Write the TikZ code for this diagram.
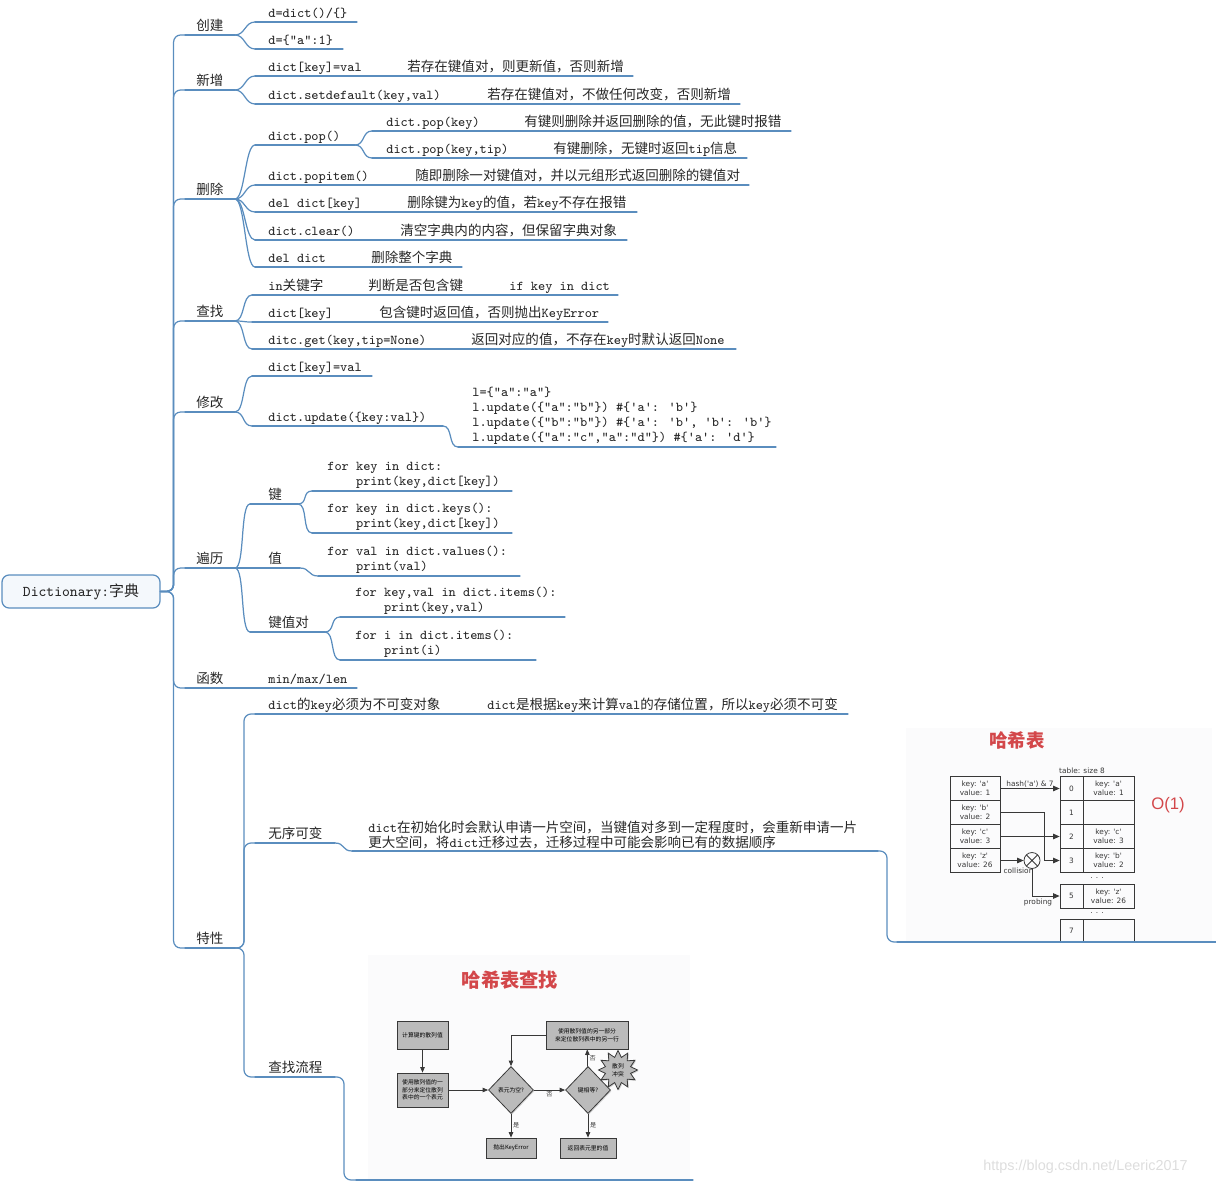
\documentclass[tikz,border=0pt]{standalone}
\usepackage{fontspec}
\usepackage{tikz}
\usetikzlibrary{positioning,arrows.meta,calc,shapes.geometric,shadows}
\newfontfamily\cjk{Noto Sans CJK SC}
\newfontfamily\dejavu{DejaVu Sans}
\newfontfamily\arial{Liberation Sans}
\newcommand\zh[1]{{\cjk #1}}
\definecolor{wire}{HTML}{5A8DBE}
\definecolor{ink}{HTML}{262626}
\definecolor{rootF}{HTML}{F4F8FC}
\definecolor{hot}{HTML}{D3474A}
\definecolor{picF}{HTML}{FBFBFC}
\definecolor{boxF}{HTML}{BBBBBB}
\definecolor{rule}{HTML}{383838}
\definecolor{faint}{HTML}{DDDDDD}
\tikzset{
  ul/.style={draw=wire, line width=0.7pt, line cap=round},
  lab/.style={anchor=base west, inner sep=0pt, text=ink,
              font=\fontsize{7.7}{8.5}\selectfont\ttfamily},
  blk/.style={lab, anchor=south west, align=left, yshift=-0.05cm},
  rootbox/.style={draw=wire, fill=rootF, line width=0.7pt, rounded corners=4pt,
                  minimum width=3.16cm, minimum height=0.66cm, text=ink,
                  font=\fontsize{8.5}{10}\selectfont\ttfamily},
  pictitle/.style={text=hot, font=\fontsize{10.5}{12}\selectfont\cjk\bfseries},
  hcell/.style={draw=rule, line width=0.45pt, minimum height=0.48cm, inner sep=0pt,
                align=center, text=rule, font=\fontsize{4.2}{4.9}\selectfont\dejavu},
  hlbl/.style={inner sep=0.5pt, text=rule, font=\fontsize{4.2}{4.9}\selectfont\dejavu},
  harrow/.style={-{Triangle[length=1.3mm, width=1.1mm]}, draw=rule, line width=0.45pt},
  flowbox/.style={draw=rule, fill=boxF, line width=0.45pt, inner sep=1pt, align=center,
               drop shadow={shadow xshift=0.6pt, shadow yshift=-0.6pt, opacity=0.35},
               font=\fontsize{3.3}{4.4}\selectfont\cjk},
  flowdia/.style={diamond, flowbox, minimum width=0.9cm, minimum height=0.94cm, inner sep=0pt},
  farrow/.style={-{Triangle[length=1.1mm, width=0.9mm]}, draw=rule, line width=0.45pt},
  flbl/.style={inner sep=1pt, text=rule, font=\fontsize{3.5}{4}\selectfont\cjk},
}
% name, x from, x to, y of the line, x of the text, text
\newcommand\topic[7][lab]{%
  \coordinate (#2-s) at (#3,#5);
  \coordinate (#2-e) at (#4,#5);
  \draw[ul] (#2-s) -- (#2-e);
  \node[#1] (#2) at (#6,#5-4.5) {#7};}

\begin{document}
\begin{tikzpicture}[x=0.02cm, y=-0.02cm]
  \useasboundingbox (0,0) rectangle (1216,1182);

  % ------------------------------------------------ hash table picture
  \begin{scope}
    \clip (906,728) rectangle (1212,941);
    \fill[picF] (906,728) rectangle (1212,941);
    \node[pictitle] (hashT) at (1017,740) {哈希表};
    \node[hlbl] (size) at (1082,771) {table: size 8};
    \foreach \nm/\val/\y in {a/1/788.5, b/2/812.5, c/3/836.5, z/26/860.5}
      \node[hcell, minimum width=1cm] (k\nm) at (975,\y) {key: '\nm'\\value: \val};
    \foreach \i/\y/\txt in {0/788.5/{key: 'a'\\value: 1}, 1/812.5/{}, 2/836.5/{key: 'c'\\value: 3},
                            3/860.5/{key: 'b'\\value: 2}, 5/896/{key: 'z'\\value: 26}, 7/931/{}} {
      \node[hcell, minimum width=0.46cm] (i\i) at (1071.5,\y) {\i};
      \node[hcell, minimum width=1.02cm] (v\i) at (1108.5,\y) {\txt};
    }
    \node[hlbl] (dots1) at (1097,878) {. . .};
    \node[hlbl] (dots2) at (1097,913) {. . .};
    \node[circle, draw=rule, line width=0.45pt, minimum size=0.32cm, inner sep=0pt,
          path picture={\draw[rule, line width=0.45pt]
            (path picture bounding box.north west) -- (path picture bounding box.south east)
            (path picture bounding box.south west) -- (path picture bounding box.north east);}]
          (coll) at (1032,860.5) {};
    \node[hlbl, below=-1pt of coll, xshift=-0.27cm] (collT) {collision};
    \node[hlbl] (probT) at (1038,902) {probing};

    \draw[harrow] (ka) -- node[hlbl, above] (hashF) {hash('a') \& 7} (i0);
    \draw[harrow] (kb.east) -- ++(44,0) |- (i3.west);
    \draw[harrow] (kc) -- (i2);
    \draw[harrow] (kz) -- (coll);
    \draw[harrow] (coll) |- (i5);

    \node[text=hot, font=\fontsize{9.5}{10}\selectfont\arial] (bigO) at (1168,805) {O(1)};
  \end{scope}

  % ------------------------------------------------ lookup flow picture
  \fill[picF] (368,955) rectangle (690,1179);
  \node[pictitle, font=\fontsize{11}{12}\selectfont\cjk\bfseries] (flowT) at (510,980) {哈希表查找};
  \node[flowbox, minimum width=1.02cm, minimum height=0.56cm] (hashv) at (422.5,1035) {计算键的散列值};
  \node[flowbox, minimum width=1.02cm, minimum height=0.68cm] (slot) at (422.5,1090)
    {使用散列值的一\\部分来定位散列\\表中的一个表元};
  \node[flowdia] (empty) at (511,1090) {表元为空?};
  \node[flowdia] (same) at (588,1090) {键相等?};
  \node[flowbox, minimum width=1.64cm, minimum height=0.56cm] (other) at (587,1035)
    {使用散列值的另一部分\\来定位散列表中的另一行};
  \node[flowbox, minimum width=1.0cm, minimum height=0.4cm] (kerr) at (511,1148) {抛出KeyError};
  \node[flowbox, minimum width=1.12cm, minimum height=0.4cm] (ret) at (588,1148) {返回表元里的值};
  \node[flowbox, star, star points=12, star point ratio=1.5, minimum size=0.78cm, inner sep=0pt]
    (clash) at (618,1070) {散列\\冲突};

  \draw[farrow] (hashv) -- (slot);
  \draw[farrow] (slot) -- (empty);
  \draw[farrow] (empty) -- node[flbl, below] (no1) {否} (same);
  \draw[farrow] (empty) -- node[flbl, right] (yes1) {是} (kerr);
  \draw[farrow] (same) -- node[flbl, right] (yes2) {是} (ret);
  \draw[farrow] (same) -- node[flbl, right] (no2) {否} (other);
  \draw[farrow] (other) -| (empty);

  % ------------------------------------------------ root
  \node[rootbox] (root) at (81,591.5) {Dictionary:\zh{字典}};

  % ------------------------------------------------ first level
  \topic{c1}{185}{235}{35}{196}{\zh{创建}}
  \topic{c2}{185}{235}{90}{196}{\zh{新增}}
  \topic{c3}{185}{235}{199}{196}{\zh{删除}}
  \topic{c4}{185}{235}{321}{196}{\zh{查找}}
  \topic{c5}{185}{235}{412}{196}{\zh{修改}}
  \topic{c6}{185}{235}{568}{196}{\zh{遍历}}
  \topic{c7}{185}{235}{688}{196}{\zh{函数}}
  \topic{c8}{185}{235}{948}{196}{\zh{特性}}

  % ------------------------------------------------ create / add
  \topic{a1}{255}{357}{22}{268}{d=dict()/\{\}}
  \topic{a2}{255}{343}{49}{268}{d=\{“a”:1\}}
  \topic{b1}{255}{633}{76}{268}{dict[key]=val}
  \node[lab] (b1n) at (407,0 |- b1.base) {\zh{若存在键值对，则更新值，否则新增}};
  \topic{b2}{255}{740}{104}{268}{dict.setdefault(key,val)}
  \node[lab] (b2n) at (487,0 |- b2.base) {\zh{若存在键值对，不做任何改变，否则新增}};

  % ------------------------------------------------ delete
  \topic{d1}{255}{355}{145}{268}{dict.pop()}
  \topic{d11}{372}{791}{131}{386}{dict.pop(key)}
  \node[lab] (d11n) at (524,0 |- d11.base) {\zh{有键则删除并返回删除的值，无此键时报错}};
  \topic{d12}{372}{747}{158}{386}{dict.pop(key,tip)}
  \node[lab] (d12n) at (553,0 |- d12.base) {\zh{有键删除，无键时返回}tip\zh{信息}};
  \topic{d2}{255}{749}{185}{268}{dict.popitem()}
  \node[lab] (d2n) at (415,0 |- d2.base) {\zh{随即删除一对键值对，并以元组形式返回删除的键值对}};
  \topic{d3}{255}{637}{212}{268}{del dict[key]}
  \node[lab] (d3n) at (407,0 |- d3.base) {\zh{删除键为}key\zh{的值，若}key\zh{不存在报错}};
  \topic{d4}{255}{627}{240}{268}{dict.clear()}
  \node[lab] (d4n) at (400,0 |- d4.base) {\zh{清空字典内的内容，但保留字典对象}};
  \topic{d5}{255}{462}{267}{268}{del dict}
  \node[lab] (d5n) at (371,0 |- d5.base) {\zh{删除整个字典}};

  % ------------------------------------------------ look up / change
  \topic{f1}{252}{618}{295}{268}{in\zh{关键字}}
  \node[lab] (f1n) at (368,0 |- f1.base) {\zh{判断是否包含键}};
  \node[lab] (f1m) at (509,0 |- f1.base) {if key in dict};
  \topic{f2}{252}{608}{322}{268}{dict[key]}
  \node[lab] (f2n) at (379,0 |- f2.base) {\zh{包含键时返回值，否则抛出}KeyError};
  \topic{f3}{252}{736}{349}{268}{ditc.get(key,tip=None)}
  \node[lab] (f3n) at (471,0 |- f3.base) {\zh{返回对应的值，不存在}key\zh{时默认返回}None};
  \topic{g1}{252}{372}{376}{268}{dict[key]=val}
  \topic{g2}{252}{443}{426}{268}{dict.update(\{key:val\})}
  \topic[blk]{g21}{458}{776}{447}{472}{l=\{“a”:“a”\}\\
    l.update(\{“a”:“b”\}) \#\{'a': 'b'\}\\
    l.update(\{“b”:“b”\}) \#\{'a': 'b', 'b': 'b'\}\\
    l.update(\{“a”:“c”,“a”:“d”\}) \#\{'a': 'd'\}}

  % ------------------------------------------------ iterate / functions
  \topic{h1}{250}{298}{504}{268}{\zh{键}}
  \topic[blk]{h11}{312}{512}{491}{327}{for key in dict:\\\phantom{1234}print(key,dict[key])}
  \topic[blk]{h12}{312}{512}{533}{327}{for key in dict.keys():\\\phantom{1234}print(key,dict[key])}
  \topic{h2}{250}{300}{568}{268}{\zh{值}}
  \topic[blk]{h21}{318}{520}{576}{327}{for val in dict.values():\\\phantom{1234}print(val)}
  \topic{h3}{250}{325}{632}{268}{\zh{键值对}}
  \topic[blk]{h31}{340}{565}{617}{355}{for key,val in dict.items():\\\phantom{1234}print(key,val)}
  \topic[blk]{h32}{340}{536}{660}{355}{for i in dict.items():\\\phantom{1234}print(i)}
  \topic{k1}{250}{357}{688}{268}{min/max/len}

  % ------------------------------------------------ properties
  \topic{m1}{255}{848}{714}{268}{dict\zh{的}key\zh{必须为不可变对象}}
  \node[lab] (m1n) at (487,0 |- m1.base) {dict\zh{是根据}key\zh{来计算}val\zh{的存储位置，所以}key\zh{必须不可变}};
  \topic{m2}{255}{335}{843}{268}{\zh{无序可变}}
  \topic[blk]{m21}{352}{878}{851}{368}{dict\zh{在初始化时会默认申请一片空间，当键值对多到一定程度时，会重新申请一片}\\
    \zh{更大空间，将}dict\zh{迁移过去，迁移过程中可能会影响已有的数据顺序}}
  \topic{m211}{897}{1216}{942}{900}{}
  \topic{m3}{255}{335}{1077}{268}{\zh{查找流程}}
  \topic{m31}{356}{693}{1180}{360}{}

  % ------------------------------------------------ branches
  \foreach \q in {c1,c2,c3,c4,c5,c6,c7,c8}
    \draw[ul, rounded corners=4pt] (root.east) -- ++(13,0) |- (\q-s);
  \foreach \p/\q in {c1/a1,c1/a2,c2/b1,c2/b2,c3/d1,c3/d2,c3/d3,c3/d4,c3/d5,d1/d11,d1/d12,
                     c4/f1,c4/f2,c4/f3,c5/g1,c5/g2,g2/g21,c6/h1,c6/h2,c6/h3,h1/h11,h1/h12,
                     h2/h21,h3/h31,h3/h32,c7/k1,m2/m21}
    \draw[ul] (\p-e) .. controls +(10,0) and +(-10,0) .. (\q-s);
  \foreach \p/\q in {c8/m1,c8/m2,c8/m3,m21/m211,m3/m31}
    \draw[ul, rounded corners=4pt] (\p-e) -- ++(9,0) |- (\q-s);

  \node[text=faint, anchor=base west, inner sep=0pt, font=\fontsize{8.2}{9}\selectfont\arial]
    (mark) at (983,1170) {https://blog.csdn.net/Leeric2017};
\end{tikzpicture}
\end{document}
